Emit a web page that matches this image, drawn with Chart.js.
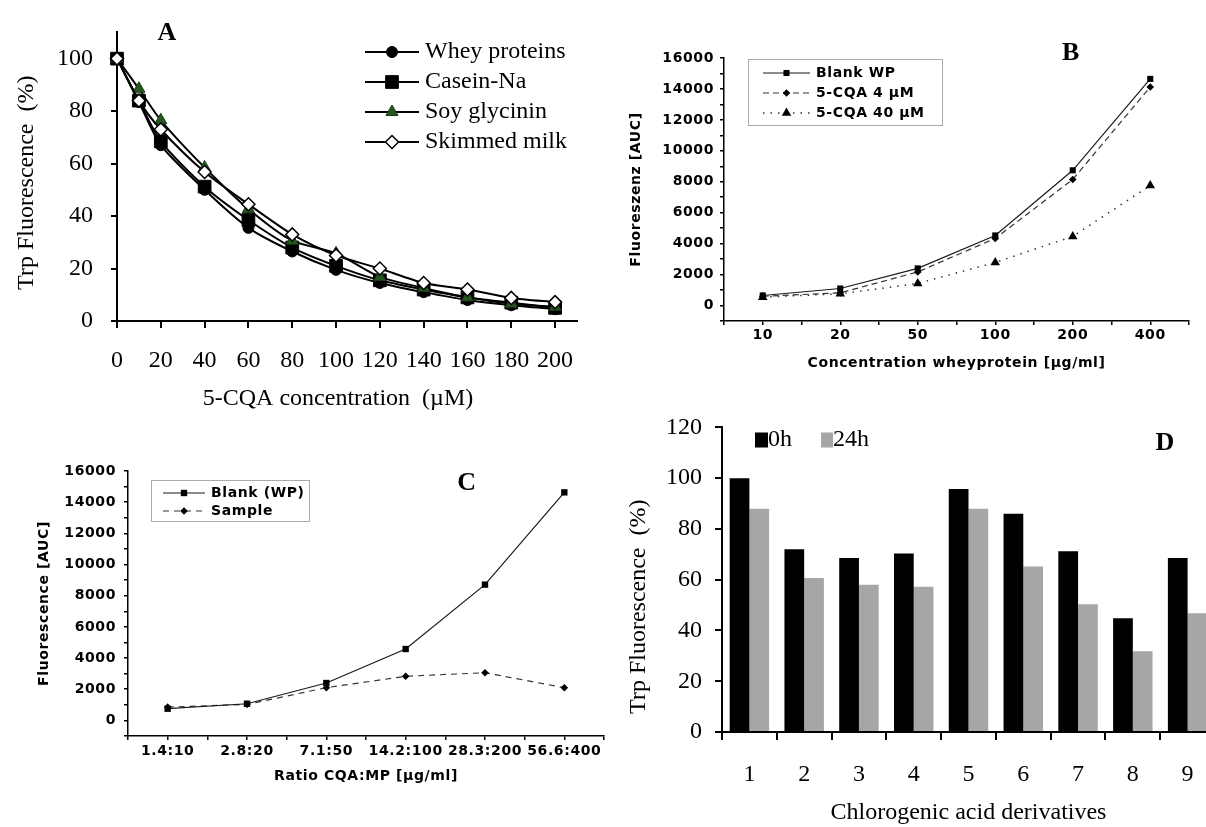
<!DOCTYPE html>
<html><head><meta charset="utf-8">
<script src="https://cdn.jsdelivr.net/npm/chart.js"></script>
<style>
html,body{margin:0;padding:0;background:#fff;overflow:hidden;width:1206px;height:827px;position:relative;}
canvas{position:absolute;}
</style></head><body>
<canvas id="cA" width="600" height="420" style="left:0;top:0"></canvas>
<canvas id="cB" width="606" height="400" style="left:600px;top:0"></canvas>
<canvas id="cC" width="610" height="427" style="left:0;top:400px"></canvas>
<canvas id="cD" width="620" height="427" style="left:610px;top:400px"></canvas>
<script>
// ---- Panel A data ----
const aConc = [0, 10, 20, 40, 60, 80, 100, 120, 140, 160, 180, 200];
const aWhey = [100, 83.5, 67, 50, 35.5, 26.5, 19.5, 14.5, 11, 8, 6, 4.5];
const aCasein = [100, 84, 68.5, 51.2, 38.5, 28, 21, 15.5, 12, 9, 7, 5];
const aSoy = [100, 88.5, 76.5, 58.5, 42.7, 30.6, 25.8, 16.8, 12.6, 9, 6.6, 5.4];
const aSkim = [100, 84, 73, 56.8, 44.5, 33, 25, 20, 14.5, 12, 8.8, 7.2];
const aXTicks = [0, 20, 40, 60, 80, 100, 120, 140, 160, 180, 200];
const aYTicks = [0, 20, 40, 60, 80, 100];
// ---- Panel B data ----
const bCats = ['10', '20', '50', '100', '200', '400'];
const bBlank = [650, 1100, 2400, 4530, 8740, 14650];
const bCqa4 = [600, 820, 2170, 4340, 8150, 14130];
const bCqa40 = [540, 760, 1430, 2780, 4470, 7760];
// ---- Panel C data ----
const cCats = ['1.4:10', '2.8:20', '7.1:50', '14.2:100', '28.3:200', '56.6:400'];
const cBlank = [750, 1070, 2400, 4580, 8710, 14630];
const cSample = [850, 1030, 2100, 2830, 3060, 2100];
// ---- Panel D data ----
const dCats = ['1', '2', '3', '4', '5', '6', '7', '8', '9'];
const d0h = [100, 72, 68.5, 70.3, 95.7, 86, 71.2, 44.8, 68.5];
const d24h = [88, 60.7, 58, 57.2, 88, 65.2, 50.3, 31.8, 46.8];

const SERIF = "'Liberation Serif','Times New Roman',serif";
const SANS = "'DejaVu Sans',Verdana,sans-serif";
const NB = '\u00a0';

function pointPath(ctx, style, r, x, y) {
  ctx.beginPath();
  if (style === 'circle') ctx.arc(x, y, r, 0, Math.PI * 2);
  else if (style === 'rect') { const s = Math.SQRT1_2 * r; ctx.rect(x - s, y - s, 2 * s, 2 * s); }
  else if (style === 'rectRot') { ctx.moveTo(x - r, y); ctx.lineTo(x, y - r); ctx.lineTo(x + r, y); ctx.lineTo(x, y + r); ctx.closePath(); }
  else if (style === 'triangle') {
    let a = 0;
    ctx.moveTo(x + Math.sin(a) * r, y - Math.cos(a) * r); a += 2 * Math.PI / 3;
    ctx.lineTo(x + Math.sin(a) * r, y - Math.cos(a) * r); a += 2 * Math.PI / 3;
    ctx.lineTo(x + Math.sin(a) * r, y - Math.cos(a) * r); ctx.closePath();
  }
}

function annot(cfg) {
  return {
    id: 'annot',
    beforeDraw(chart) { if (cfg.spacing) chart.ctx.letterSpacing = cfg.spacing; },
    afterDraw(chart) {
      const ctx = chart.ctx;
      ctx.save();
      if (cfg.box) {
        ctx.strokeStyle = cfg.box.color; ctx.lineWidth = 1;
        ctx.strokeRect(cfg.box.x + 0.5, cfg.box.y + 0.5, cfg.box.w, cfg.box.h);
      }
      (cfg.items || []).forEach(it => {
        const ds = chart.data.datasets[it.ds];
        if (it.type === 'line') {
          ctx.beginPath();
          ctx.setLineDash(ds.borderDash || []);
          ctx.strokeStyle = ds.borderColor; ctx.lineWidth = ds.borderWidth;
          ctx.moveTo(it.x1, it.y); ctx.lineTo(it.x2, it.y); ctx.stroke();
          ctx.setLineDash([]);
          pointPath(ctx, ds.pointStyle, ds.pointRadius, (it.x1 + it.x2) / 2, it.y);
          ctx.fillStyle = ds.pointBackgroundColor; ctx.fill();
          if (ds.pointBorderWidth > 0) { ctx.strokeStyle = ds.pointBorderColor; ctx.lineWidth = ds.pointBorderWidth; ctx.stroke(); }
        } else if (it.type === 'box') {
          ctx.fillStyle = ds.backgroundColor;
          ctx.fillRect(it.bx, it.y - it.bh / 2, it.bw, it.bh);
        }
        ctx.fillStyle = '#000'; ctx.font = cfg.font; ctx.textAlign = 'left'; ctx.textBaseline = 'middle';
        ctx.fillText(ds.label, it.tx, it.y);
      });
      (cfg.texts || []).forEach(t => {
        ctx.fillStyle = '#000'; ctx.font = t.font; ctx.textAlign = 'center'; ctx.textBaseline = 'middle';
        ctx.fillText(t.text, t.x, t.y);
      });
      ctx.restore();
    }
  };
}

const base = { responsive: false, animation: false, events: [], devicePixelRatio: 1 };
const noPlug = { legend: { display: false }, tooltip: { enabled: false } };

// ================= Panel A =================
function lineA(label, ys, st) {
  return Object.assign({ label, data: aConc.map((x, i) => ({ x, y: ys[i] })), fill: false, clip: false,
    borderColor: '#000', borderWidth: 2, tension: 0.25, pointBorderWidth: 1 }, st);
}
new Chart(document.getElementById('cA'), {
  type: 'line',
  data: { datasets: [
    lineA('Whey proteins', aWhey, { pointStyle: 'circle', pointRadius: 5.5, pointBackgroundColor: '#000', pointBorderColor: '#000', order: 4 }),
    lineA('Casein-Na', aCasein, { pointStyle: 'rect', pointRadius: 9, pointBackgroundColor: '#000', pointBorderColor: '#000', order: 3 }),
    lineA('Soy glycinin', aSoy, { pointStyle: 'triangle', pointRadius: 7, pointBackgroundColor: '#24561f', pointBorderColor: '#1a3d16', order: 2 }),
    lineA('Skimmed milk', aSkim, { pointStyle: 'rectRot', pointRadius: 6.5, pointBackgroundColor: '#fff', pointBorderColor: '#000', pointBorderWidth: 1.5, order: 1 })
  ] },
  options: Object.assign({}, base, {
    layout: { padding: { top: 14, right: 23, bottom: 0, left: 0 } },
    plugins: noPlug,
    scales: {
      x: { type: 'linear', min: 0, max: 210,
        afterBuildTicks: s => { s.ticks = aXTicks.map(v => ({ value: v })); },
        afterFit: s => { s.height = 99; },
        ticks: { stepSize: 20, font: { family: SERIF, size: 24 }, color: '#000', padding: 18, maxRotation: 0, autoSkip: false },
        grid: { drawOnChartArea: false, tickLength: 7, color: '#000', lineWidth: 2 },
        border: { color: '#000', width: 2 },
        title: { display: true, text: '5-CQA concentration' + NB + NB + '(µM)' + NB + NB + NB, font: { family: SERIF, size: 24 }, color: '#000', padding: { top: 0, bottom: 7 } } },
      y: { type: 'linear', min: 0, max: 110,
        afterBuildTicks: s => { s.ticks = aYTicks.map(v => ({ value: v })); },
        afterFit: s => { s.width = 117; },
        ticks: { stepSize: 20, font: { family: SERIF, size: 24 }, color: '#000', padding: 18, autoSkip: false },
        grid: { drawOnChartArea: false, tickLength: 6, color: '#000', lineWidth: 2 },
        border: { color: '#000', width: 2 },
        title: { display: true, text: 'Trp Fluorescence' + NB + NB + '(%)' + NB + NB, font: { family: SERIF, size: 24 }, color: '#000', padding: { top: 12, bottom: 0 } } }
    }
  }),
  plugins: [annot({
    font: `24px ${SERIF}`,
    items: [
      { ds: 0, type: 'line', x1: 365, x2: 419, y: 52, tx: 425 },
      { ds: 1, type: 'line', x1: 365, x2: 419, y: 82, tx: 425 },
      { ds: 2, type: 'line', x1: 365, x2: 419, y: 112, tx: 425 },
      { ds: 3, type: 'line', x1: 365, x2: 419, y: 142, tx: 425 }
    ],
    texts: [{ text: 'A', x: 167, y: 33, font: `bold 26px ${SERIF}` }]
  })]
});

// ================= Panels B & C helpers =================
function lineBC(label, cats, ys, st) {
  return Object.assign({ label, data: cats.map((c, i) => ({ x: i + 1, y: ys[i] })), fill: false, clip: false,
    borderColor: '#1a1a1a', borderWidth: 1.2, tension: 0, pointBackgroundColor: '#000', pointBorderColor: '#000', pointBorderWidth: 0 }, st);
}
function scalesBC(cats, xTitle, yTitle, yW, xH, yPadTitle, xPadTitle, xPad, yPad) {
  const f = { family: SANS, size: 14, weight: 'bold' };
  return {
    x: { type: 'linear', min: 0.5, max: 6.5,
      afterFit: s => { s.height = xH; },
      ticks: { stepSize: 0.5, autoSkip: false, maxRotation: 0, font: f, color: '#000', padding: xPad,
        callback: v => Number.isInteger(v) ? cats[v - 1] : '' },
      grid: { drawOnChartArea: false, tickLength: 4, color: '#000', lineWidth: 1.5 },
      border: { color: '#000', width: 1.5 },
      title: { display: true, text: xTitle, font: f, color: '#000', padding: { top: 0, bottom: xPadTitle } } },
    y: { type: 'linear', min: -1000, max: 16000,
      afterFit: s => { s.width = yW; },
      ticks: { stepSize: 1000, autoSkip: false, font: f, color: '#000', padding: yPad,
        callback: v => (v >= 0 && v % 2000 === 0) ? String(v) : '' },
      grid: { drawOnChartArea: false, tickLength: 4, color: '#000', lineWidth: 1.5 },
      border: { color: '#000', width: 1.5 },
      title: { display: true, text: yTitle, font: f, color: '#000', padding: { top: yPadTitle, bottom: 0 } } }
  };
}

// ================= Panel B =================
new Chart(document.getElementById('cB'), {
  type: 'line',
  data: { datasets: [
    lineBC('Blank WP', bCats, bBlank, { pointStyle: 'rect', pointRadius: 4.3 }),
    lineBC('5-CQA 4 µM', bCats, bCqa4, { pointStyle: 'rectRot', pointRadius: 3.8, borderDash: [6, 4], borderColor: '#333' }),
    lineBC('5-CQA 40 µM', bCats, bCqa40, { pointStyle: 'triangle', pointRadius: 5.5, borderDash: [1.5, 6], borderWidth: 1.5, borderColor: '#333' })
  ] },
  options: Object.assign({}, base, {
    layout: { padding: { top: 58, right: 17, bottom: 0, left: 0 } },
    plugins: noPlug,
    scales: scalesBC(bCats, 'Concentration wheyprotein [µg/ml]', 'Fluoreszenz [AUC]', 124, 79, 28, 28, 2, 6)
  }),
  plugins: [annot({
    spacing: '0.6px',
    font: `bold 14px ${SANS}`,
    box: { x: 148, y: 59, w: 194, h: 66, color: '#aaa' },
    items: [
      { ds: 0, type: 'line', x1: 163, x2: 210, y: 73, tx: 216 },
      { ds: 1, type: 'line', x1: 163, x2: 210, y: 93, tx: 216 },
      { ds: 2, type: 'line', x1: 163, x2: 210, y: 113, tx: 216 }
    ],
    texts: [{ text: 'B', x: 471, y: 53, font: `bold 26px ${SERIF}` }]
  })]
});

// ================= Panel C =================
new Chart(document.getElementById('cC'), {
  type: 'line',
  data: { datasets: [
    lineBC('Blank (WP)', cCats, cBlank, { pointStyle: 'rect', pointRadius: 4.5 }),
    lineBC('Sample', cCats, cSample, { pointStyle: 'rectRot', pointRadius: 3.8, borderDash: [6, 5], borderColor: '#333' })
  ] },
  options: Object.assign({}, base, {
    layout: { padding: { top: 71, right: 6, bottom: 0, left: 0 } },
    plugins: noPlug,
    scales: scalesBC(cCats, 'Ratio CQA:MP [µg/ml]', 'Fluorescence [AUC]', 128, 91, 36, 42, 3, 8)
  }),
  plugins: [annot({
    spacing: '0.6px',
    font: `bold 14px ${SANS}`,
    box: { x: 151, y: 80, w: 158, h: 41, color: '#aaa' },
    items: [
      { ds: 0, type: 'line', x1: 163, x2: 205, y: 93, tx: 211 },
      { ds: 1, type: 'line', x1: 163, x2: 205, y: 111, tx: 211 }
    ],
    texts: [{ text: 'C', x: 467, y: 83, font: `bold 26px ${SERIF}` }]
  })]
});

// ================= Panel D =================
new Chart(document.getElementById('cD'), {
  type: 'bar',
  data: { labels: dCats, datasets: [
    { label: '0h', data: d0h, backgroundColor: '#000', borderWidth: 0, categoryPercentage: 0.72, barPercentage: 1.0 },
    { label: '24h', data: d24h, backgroundColor: '#a6a6a6', borderWidth: 0, categoryPercentage: 0.72, barPercentage: 1.0 }
  ] },
  options: Object.assign({}, base, {
    layout: { padding: { top: 25, right: 15, bottom: 0, left: 0 } },
    plugins: noPlug,
    scales: {
      x: { type: 'category', offset: true,
        afterFit: s => { s.height = 95; },
        ticks: { font: { family: SERIF, size: 24 }, color: '#000', padding: 20, maxRotation: 0, autoSkip: false },
        grid: { offset: true, drawOnChartArea: false, tickLength: 8, color: '#000', lineWidth: 2 },
        border: { color: '#000', width: 2 },
        title: { display: true, text: 'Chlorogenic acid' + NB + 'derivatives', font: { family: SERIF, size: 24 }, color: '#000', padding: { top: 0, bottom: 0 } } },
      y: { type: 'linear', min: 0, max: 120,
        afterFit: s => { s.width = 112; },
        ticks: { stepSize: 20, font: { family: SERIF, size: 24 }, color: '#000', padding: 13, autoSkip: false },
        grid: { drawOnChartArea: false, tickLength: 7, color: '#000', lineWidth: 2 },
        border: { color: '#000', width: 2 },
        title: { display: true, text: 'Trp Fluorescence' + NB + NB + '(%)' + NB.repeat(9), font: { family: SERIF, size: 24 }, color: '#000', padding: { top: 14, bottom: 0 } } }
    }
  }),
  plugins: [annot({
    font: `24px ${SERIF}`,
    items: [
      { ds: 0, type: 'box', bx: 145, bw: 13, bh: 15, y: 40, tx: 158 },
      { ds: 1, type: 'box', bx: 211, bw: 12, bh: 15, y: 40, tx: 223 }
    ],
    texts: [{ text: 'D', x: 555, y: 43, font: `bold 26px ${SERIF}` }]
  })]
});
</script>
</body></html>
